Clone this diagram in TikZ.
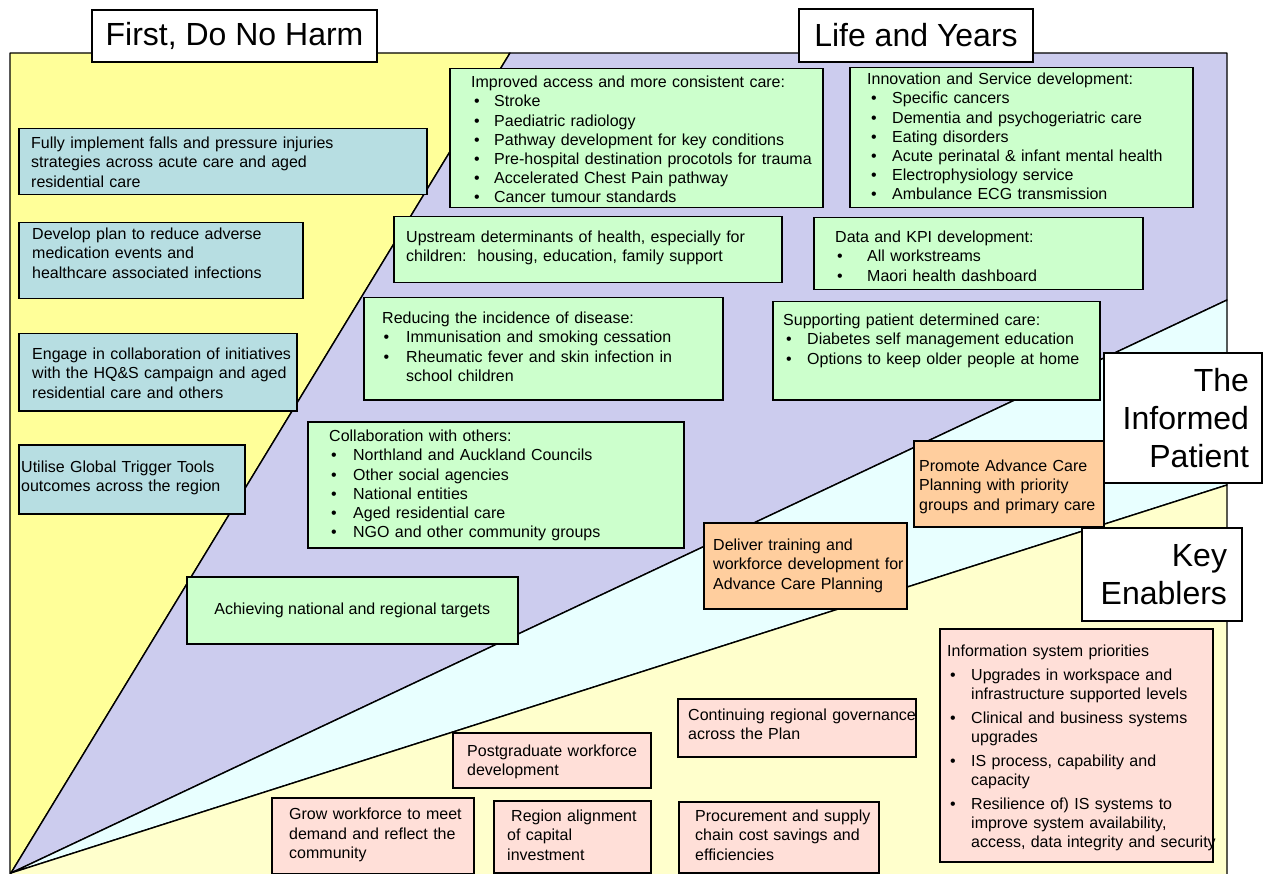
\documentclass[tikz,border=0pt]{standalone}
\usepackage{fontspec}
\setmainfont{Liberation Sans}
\newlength\bulind
\newlength\bulpad
% bulleted item with hanging indent
\newcommand\bul[1]{\par\hangindent=\bulind\hangafter=1\noindent\hbox to \bulind{\hskip\bulpad\textbullet\hfil}#1}
\newcommand\bodyfont{\fontsize{16}{19.2}\selectfont}
\newcommand\headfont{\fontsize{32}{38}\selectfont}
\definecolor{harmyel}{RGB}{255,255,153}
\definecolor{lifelav}{RGB}{204,204,238}
\definecolor{infcyan}{RGB}{232,255,255}
\definecolor{keyyel}{RGB}{255,255,204}
\definecolor{tealbox}{RGB}{183,222,226}
\definecolor{greenbox}{RGB}{204,255,204}
\definecolor{orangebox}{RGB}{255,206,158}
\definecolor{pinkbox}{RGB}{255,223,216}
\tikzset{
  region/.style={draw=black, line width=1.4pt, line join=round},
  bx/.style={draw=black, line width=1.5pt, fill=#1, rectangle, inner sep=0pt, anchor=north west},
  txt/.style={anchor=north west, inner sep=0pt, text width=#1, align=left, font=\bodyfont},
  txt/.default=430pt,
  titlebox/.style={draw=black, line width=1.5pt, fill=white, rectangle, font=\headfont}
}
\begin{document}
\begin{tikzpicture}[x=1pt,y=-1pt]
\useasboundingbox (0,0) rectangle (1263,874);
% the four sectors fanning out from the bottom-left corner
\coordinate (pivot) at (11,873);
\fill[white] (0,0) rectangle (1263,874);
\filldraw[region, fill=harmyel] (10,53) -- (510,53) -- (pivot) -- (10,878) -- cycle;
\filldraw[region, fill=lifelav] (510,53) -- (1227,53) -- (1227,300) -- (pivot) -- cycle;
\filldraw[region, fill=infcyan] (pivot) -- (1227,300) -- (1227,485) -- cycle;
\filldraw[region, fill=keyyel] (pivot) -- (1227,485) -- (1227,878) -- (10,878) -- cycle;

% section titles
\node[titlebox, minimum width=285pt, minimum height=52pt] (harm) at (234.5,36) {First, Do No Harm};
\node[titlebox, minimum width=234pt, minimum height=53pt] (life) at (916,35.5) {Life and Years};
\node[titlebox, text width=132pt, inner xsep=13pt, align=right, minimum height=130pt] (informed) at (1183,418) {The\\Informed\\Patient};
\node[titlebox, text width=130pt, inner xsep=15pt, align=right, minimum height=93pt] (enablers) at (1162,574.5) {Key\\Enablers};

% First, Do No Harm
\node[bx=tealbox, minimum width=408pt, minimum height=66pt] (t1) at (18,128) {};
\node[txt] (t1t) at (31,137) {Fully implement falls and pressure injuries\\strategies across acute care and aged\\residential care};
\node[bx=tealbox, minimum width=284pt, minimum height=76pt] (t2) at (18,222) {};
\node[txt] (t2t) at (32,228) {Develop plan to reduce adverse\\medication events and\\healthcare associated infections};
\node[bx=tealbox, minimum width=278pt, minimum height=77pt] (t3) at (18,333) {};
\node[txt] (t3t) at (32,348) {Engage in collaboration of initiatives\\with the HQ\&S campaign and aged\\residential care and others};
\node[bx=tealbox, minimum width=226pt, minimum height=69pt] (t4) at (18,444) {};
\node[txt] (t4t) at (21,461) {Utilise Global Trigger Tools\\outcomes across the region};

% Life and Years
\node[bx=greenbox, minimum width=373pt, minimum height=139pt] (g1) at (449,68) {};
\node[txt] (g1t) at (471,76) {\setlength\bulind{23pt}\setlength\bulpad{3pt}Improved access and more consistent care:
\bul{Stroke}
\bul{Paediatric radiology}
\bul{Pathway development for key conditions}
\bul{Pre-hospital destination procotols for trauma}
\bul{Accelerated Chest Pain pathway}
\bul{Cancer tumour standards}\par};
\node[bx=greenbox, minimum width=343pt, minimum height=140pt] (g2) at (849,67) {};
\node[txt] (g2t) at (867,73) {\setlength\bulind{25pt}\setlength\bulpad{4pt}Innovation and Service development:
\bul{Specific cancers}
\bul{Dementia and psychogeriatric care}
\bul{Eating disorders}
\bul{Acute perinatal \& infant mental health}
\bul{Electrophysiology service}
\bul{Ambulance ECG transmission}\par};
\node[bx=greenbox, minimum width=388pt, minimum height=66pt] (g3) at (393,216) {};
\node[txt] (g3t) at (406,231) {Upstream determinants of health, especially for\\children:\ \ housing, education, family support};
\node[bx=greenbox, minimum width=329pt, minimum height=72pt] (g4) at (813,217) {};
\node[txt] (g4t) at (835,231) {\setlength\bulind{32pt}\setlength\bulpad{2pt}Data and KPI development:
\bul{All workstreams}
\bul{Maori health dashboard}\par};
\node[bx=greenbox, minimum width=359pt, minimum height=102pt] (g5) at (363,297) {};
\node[txt] (g5t) at (382,312) {\setlength\bulind{24pt}\setlength\bulpad{1.5pt}Reducing the incidence of disease:
\bul{Immunisation and smoking cessation}
\bul{Rheumatic fever and skin infection in\newline school children}\par};
\node[bx=greenbox, minimum width=327pt, minimum height=98pt] (g6) at (772,301) {};
\node[txt] (g6t) at (783,314) {\setlength\bulind{24pt}\setlength\bulpad{3pt}Supporting patient determined care:
\bul{Diabetes self management education}
\bul{Options to keep older people at home}\par};
\node[bx=greenbox, minimum width=376pt, minimum height=126pt] (g7) at (307,421) {};
\node[txt] (g7t) at (329,430) {\setlength\bulind{24pt}\setlength\bulpad{2pt}Collaboration with others:
\bul{Northland and Auckland Councils}
\bul{Other social agencies}
\bul{National entities}
\bul{Aged residential care}
\bul{NGO and other community groups}\par};
\node[bx=greenbox, minimum width=331pt, minimum height=67pt] (g8) at (186,576) {};
\node[font=\bodyfont, inner sep=0pt] (g8t) at (g8.center) {Achieving national and regional targets};

% The Informed Patient
\node[bx=orangebox, minimum width=190pt, minimum height=86pt] (o1) at (913,440) {};
\node[txt] (o1t) at (919,460) {Promote Advance Care\\Planning with priority\\groups and primary care};
\node[bx=orangebox, minimum width=203pt, minimum height=86pt] (o2) at (703,522) {};
\node[txt] (o2t) at (713,539) {Deliver training and\\workforce development for\\Advance Care Planning};

% Key Enablers
\node[bx=pinkbox, minimum width=273pt, minimum height=233pt] (p1) at (939,628) {};
\node[txt] (p1t) at (947,645) {\setlength\bulind{24pt}\setlength\bulpad{3pt}\setlength\parskip{4.5pt}Information system priorities
\bul{Upgrades in workspace and\newline infrastructure supported levels}
\bul{Clinical and business systems\newline upgrades}
\bul{IS process, capability and\newline capacity}
\bul{Resilience of) IS systems to\newline improve system availability,\newline access, data integrity and security}\par};
\node[bx=pinkbox, minimum width=238pt, minimum height=58pt] (p2) at (677,698) {};
\node[txt] (p2t) at (688,709) {Continuing regional governance\\across the Plan};
\node[bx=pinkbox, minimum width=198pt, minimum height=55pt] (p3) at (452,732) {};
\node[txt] (p3t) at (467,745) {Postgraduate workforce\\development};
\node[bx=pinkbox, minimum width=202pt, minimum height=76pt] (p4) at (271,797) {};
\node[txt] (p4t) at (289,808) {Grow workforce to meet\\demand and reflect the\\community};
\node[bx=pinkbox, minimum width=157pt, minimum height=72pt] (p5) at (493,800) {};
\node[txt] (p5t) at (507,810) {\hspace{4pt}Region alignment\\of capital\\investment};
\node[bx=pinkbox, minimum width=200pt, minimum height=71pt] (p6) at (678,801) {};
\node[txt] (p6t) at (695,810) {Procurement and supply\\chain cost savings and\\efficiencies};
\end{tikzpicture}
\end{document}
